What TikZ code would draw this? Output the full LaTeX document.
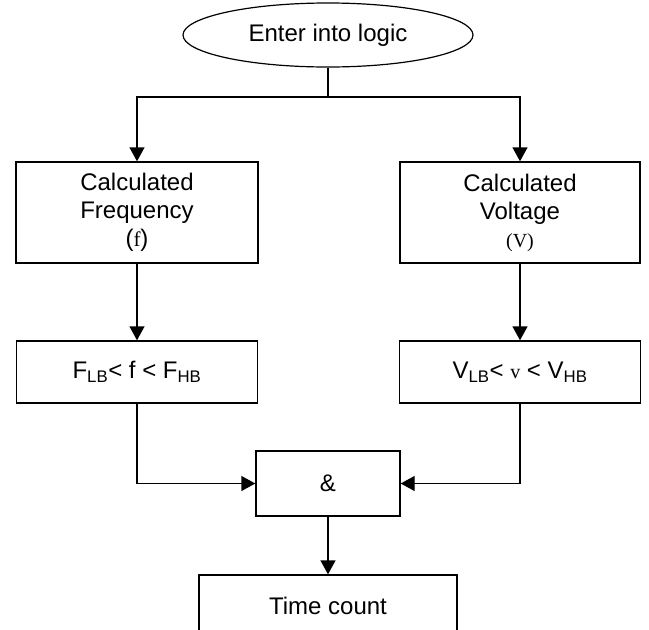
\documentclass[tikz,border=0pt]{standalone}
\usepackage{fontspec}
\setmainfont{Liberation Sans}
\newfontfamily\serifsym{Liberation Serif}
\usetikzlibrary{arrows.meta,shapes.geometric}

\begin{document}
\begin{tikzpicture}[x=1pt,y=-1pt,>={Triangle[width=15pt,length=14pt]},line width=1.4pt,
	font=\fontsize{24}{28}\selectfont,
	box/.style={draw,rectangle,inner sep=0pt,align=center}]
	\useasboundingbox (0,0) rectangle (649,630);
	\node[draw,ellipse,line width=1.2pt,minimum width=290pt,minimum height=64pt,inner sep=0pt] (enter) at (328,35) {Enter into logic};
	\node[box,minimum width=242pt,minimum height=101pt] (calcf) at (137,212.5) {Calculated\\Frequency\\({\serifsym\fontsize{21}{28}\selectfont f})};
	\node[box,minimum width=240pt,minimum height=101pt] (calcv) at (520,212.5) {Calculated\\Voltage\\{\serifsym\fontsize{20}{28}\selectfont (V)}};
	\node[box,minimum width=241pt,minimum height=62pt] (rangef) at (137,372) {F\textsubscript{LB}< f < F\textsubscript{HB}};
	\node[box,minimum width=241pt,minimum height=62pt] (rangev) at (520,372) {V\textsubscript{LB}< {\serifsym\fontsize{20}{28}\selectfont v} < V\textsubscript{HB}};
	\node[box,minimum width=144pt,minimum height=65pt] (and) at (328,483.5) {\&};
	\node[box,minimum width=258pt,minimum height=62pt] (time) at (328,606) {Time count};
	\coordinate (split) at (328,97);
	\draw (enter.south)--(split);
	\draw[->] (split) -| (calcf.north);
	\draw[->] (split) -| (calcv.north);
	\draw[->] (calcf)--(rangef);
	\draw[->] (calcv)--(rangev);
	\draw[->] (rangef.south) |- (and.west);
	\draw[->] (rangev.south) |- (and.east);
	\draw[->] (and)--(time);
\end{tikzpicture}
\end{document}
